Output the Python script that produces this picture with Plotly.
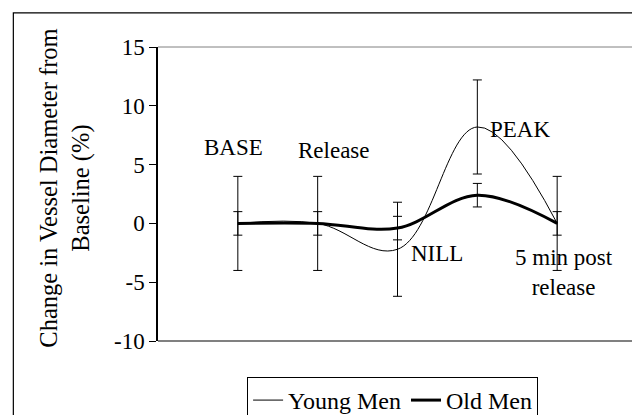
import plotly.graph_objects as go

# ---- data ----
categories = ["BASE", "Release", "NILL", "PEAK", "5 min post<br>release"]
x_pos = [1, 2, 3, 4, 5]
young_men = [0, 0, -2.2, 8.2, 0]
young_err = [4, 4, 4, 4, 4]
old_men = [0, 0, -0.4, 2.4, 0]
old_err = [1, 1, 1, 1, 1]
y_ticks = [-10, -5, 0, 5, 10, 15]

# label placement (x offset in category units, y in data units)
label_dx = [-0.06, 0.21, 0.49, 0.54, 0.08]
label_y = [6.45, 6.2, -2.55, 8.0, -4.2]

FONT = "'Liberation Serif', 'Times New Roman', 'DejaVu Serif', serif"

fig = go.Figure()
fig.add_trace(go.Scatter(
    x=x_pos, y=young_men, name="Young Men", mode="lines",
    line=dict(color="black", width=1, shape="spline", smoothing=1.1),
    error_y=dict(type="data", array=young_err, visible=True,
                 color="black", thickness=1, width=4.5),
))
fig.add_trace(go.Scatter(
    x=x_pos, y=old_men, name="Old Men", mode="lines",
    line=dict(color="black", width=3, shape="spline", smoothing=1),
    error_y=dict(type="data", array=old_err, visible=True,
                 color="black", thickness=1, width=4.5),
))

for xp, lab, dx, ly in zip(x_pos, categories, label_dx, label_y):
    fig.add_annotation(x=xp + dx, y=ly, xref="x", yref="y", text=lab,
                       showarrow=False, xanchor="center", yanchor="middle",
                       font=dict(family=FONT, size=23, color="black"))

# y axis title (two lines, rotated)
fig.add_annotation(x=-0.193, y=0.52, xref="paper", yref="paper",
                   text="Change in Vessel Diameter from<br>Baseline (%)",
                   textangle=-90, showarrow=False,
                   xanchor="center", yanchor="middle",
                   font=dict(family=FONT, size=24.5, color="black"))

# plot frame and outer border
fig.add_shape(type="line", xref="paper", yref="paper", x0=0, x1=1, y0=1, y1=1,
              line=dict(color="#808080", width=1))
fig.add_shape(type="line", xref="paper", yref="paper", x0=1, x1=1, y0=0, y1=1,
              line=dict(color="#808080", width=2))
fig.add_shape(type="line", xref="paper", yref="paper", x0=0, x1=1, y0=0, y1=0,
              line=dict(color="#808080", width=2))
fig.add_shape(type="rect", xref="paper", yref="paper",
              x0=-0.302, x1=1.2, y0=-0.5, y1=1.116,
              line=dict(color="black", width=1.2), fillcolor="rgba(0,0,0,0)")

# page body has an 8px default margin, so the figure is 632x407
fig.update_layout(
    width=632, height=407,
    margin=dict(l=150, r=3, t=39, b=74, autoexpand=False),
    paper_bgcolor="white", plot_bgcolor="white",
    font=dict(family=FONT, size=23, color="black"),
    showlegend=True,
    legend=dict(orientation="h", x=0.186, y=-0.1224, xanchor="left", yanchor="top",
                bordercolor="black", borderwidth=1, bgcolor="white",
                font=dict(family=FONT, size=24, color="black"),
                itemwidth=30, tracegroupgap=0),
    xaxis=dict(range=[0, 6], showgrid=False, zeroline=False, showticklabels=False,
               ticks="", showline=False, fixedrange=True, automargin=False),
    yaxis=dict(range=[-10, 15], tickvals=y_ticks, ticktext=[str(v) for v in y_ticks],
               showgrid=False, zeroline=False, ticks="outside", ticklen=7,
               tickcolor="black", showline=True, linecolor="black", linewidth=1.5,
               automargin=False,
               tickfont=dict(family=FONT, size=23, color="black"), fixedrange=True),
)

fig.write_html("out.html")
